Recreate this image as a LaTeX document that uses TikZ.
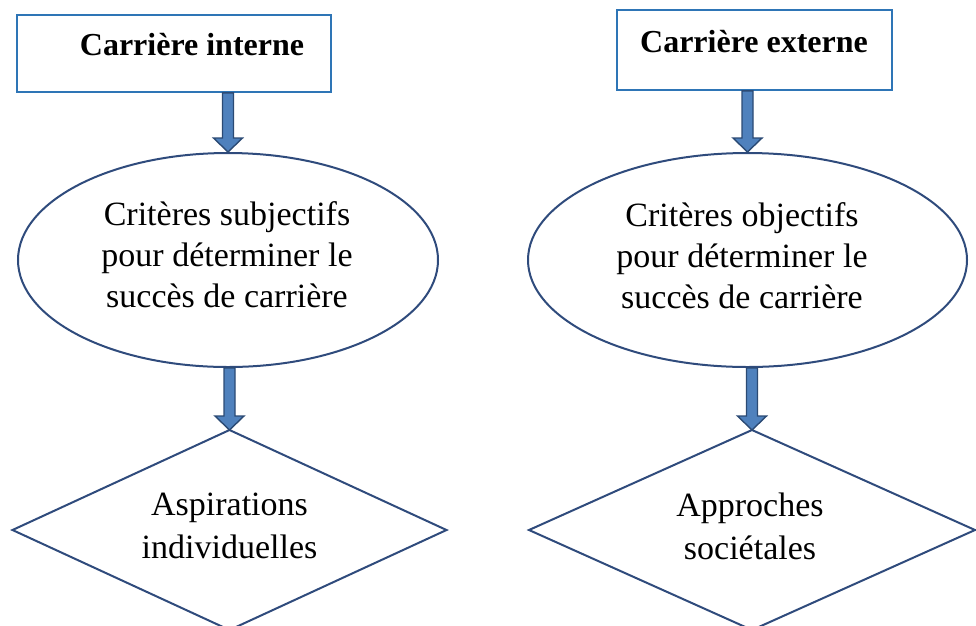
\documentclass[tikz,border=0pt]{standalone}
\usepackage{fontspec}
\setmainfont{Liberation Serif}
\usetikzlibrary{shapes.geometric,calc}

\definecolor{boxblue}{HTML}{2E75B6}
\definecolor{shapeblue}{HTML}{2F4B7C}
\definecolor{arrowfill}{HTML}{4F81BD}
\definecolor{arrowedge}{HTML}{2B4A74}

\tikzset{
  headbox/.style={draw=boxblue, line width=1.6pt, rectangle, inner sep=0pt},
  headtext/.style={font=\fontsize{32}{38}\selectfont\bfseries, inner sep=0pt},
  crit/.style={draw=shapeblue, line width=2pt, ellipse, inner sep=0pt},
  bodytext/.style={align=center, inner sep=0pt, font=\fontsize{34}{41}\selectfont},
  goaledge/.style={draw=shapeblue, line width=2pt, line join=miter},
  blockarrow/.style={fill=arrowfill, draw=arrowedge, line width=1.4pt, line join=miter},
}

% block arrow from the bottom of node #1 to the point #2
\newcommand\blockarrow[2]{%
  \draw[blockarrow] let \p1=(#1.south), \p2=(#2) in
    (\x2-5.5pt,\y1) -- (\x2-5.5pt,\y2+14pt) -- (\x2-14.5pt,\y2+14pt) --
    (\x2,\y2) -- (\x2+14.5pt,\y2+14pt) -- (\x2+5.5pt,\y2+14pt) --
    (\x2+5.5pt,\y1) -- cycle;}

\begin{document}
\begin{tikzpicture}[x=1pt,y=-1pt]
\useasboundingbox (0,0) rectangle (976,625);
\clip (0,0) rectangle (976,625);

% left column
\node[headbox, minimum width=314pt, minimum height=77pt] (b1) at (174,53.5) {};
\node[headtext] (t1) at (192,45) {Carrière interne};
\node[crit, minimum width=420pt, minimum height=214pt] (e1) at (228,260) {};
\node[bodytext] (et1) at (227,255) {Critères subjectifs\\pour déterminer le\\succès de carrière};
\coordinate (d1top) at (229.5,430);
\draw[goaledge] (d1top) -- (446.5,530) -- (229.5,630) -- (12.5,530) -- cycle;
\node[bodytext, font=\fontsize{34}{43}\selectfont] (dt1) at (229.5,526) {Aspirations\\individuelles};

% right column
\node[headbox, minimum width=275pt, minimum height=80pt] (b2) at (754.5,50) {};
\node[headtext] (t2) at (754,42) {Carrière externe};
\node[crit, minimum width=439pt, minimum height=214pt] (e2) at (747.5,260) {};
\node[bodytext] (et2) at (742,256) {Critères objectifs\\pour déterminer le\\succès de carrière};
\coordinate (d2top) at (752,430);
\draw[goaledge] (d2top) -- (975,530) -- (752,630) -- (529,530) -- cycle;
\node[bodytext, font=\fontsize{34}{43}\selectfont] (dt2) at (750,526) {Approches\\sociétales};

% connectors
\blockarrow{b1}{e1.north}
\blockarrow{e1}{d1top}
\blockarrow{b2}{e2.north}
\blockarrow{e2}{d2top}
\end{tikzpicture}
\end{document}
